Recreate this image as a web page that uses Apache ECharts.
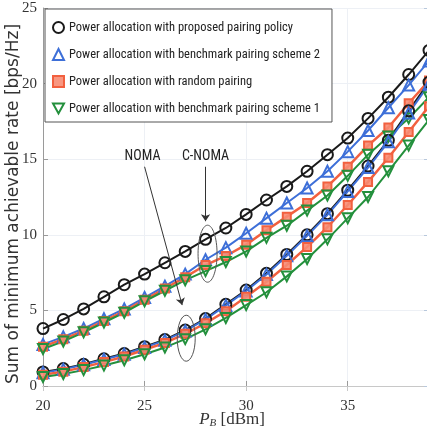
<!DOCTYPE html>
<html>
<head>
<meta charset="utf-8">
<script src="https://cdn.jsdelivr.net/npm/echarts@6/dist/echarts.min.js"></script>
<style>
  html, body { margin: 0; padding: 0; background: #fff; }
  #chart { width: 427px; height: 441px; }
</style>
</head>
<body>
<div id="chart"></div>
<script>
// transmit power P_B [dBm]
const powerDbm = [20, 21, 22, 23, 24, 25, 26, 27, 28, 29, 30, 31, 32, 33, 34, 35, 36, 37, 38, 39]

// C-NOMA group (upper curves)
const cnomaProposed = [3.8, 4.4, 5.1, 5.9, 6.7, 7.4, 8.15, 8.9, 9.7, 10.45, 11.35, 12.3, 13.2, 14.2, 15.3, 16.4, 17.7, 19.1, 20.6, 22.2]
const cnomaScheme2  = [2.75, 3.25, 3.8, 4.45, 5.1, 5.85, 6.6, 7.4, 8.35, 9.15, 10.1, 11.1, 12.1, 13.1, 14.2, 15.5, 16.9, 18.4, 19.9, 21.5]
const cnomaRandom   = [2.6, 3.1, 3.65, 4.3, 4.95, 5.7, 6.45, 7.2, 8.0, 8.6, 9.35, 10.3, 11.2, 12.1, 13.2, 14.5, 15.9, 17.1, 18.7, 20.2]
const cnomaScheme1  = [2.45, 2.95, 3.55, 4.2, 4.85, 5.6, 6.3, 7.0, 7.6, 8.2, 8.9, 9.8, 10.6, 11.6, 12.6, 13.9, 15.3, 16.5, 17.7, 19.1]

// NOMA group (lower curves)
const nomaProposed = [0.93, 1.15, 1.44, 1.8, 2.15, 2.6, 3.07, 3.7, 4.46, 5.4, 6.35, 7.45, 8.7, 10.0, 11.4, 12.95, 14.55, 16.25, 18.2, 20.1]
const nomaScheme2  = [0.88, 1.1, 1.4, 1.75, 2.1, 2.55, 3.02, 3.64, 4.4, 5.33, 6.28, 7.38, 8.62, 9.93, 11.32, 12.87, 14.45, 16.15, 18.05, 19.95]
const nomaRandom   = [0.75, 0.95, 1.25, 1.58, 1.95, 2.4, 2.85, 3.45, 4.15, 4.95, 5.9, 6.9, 8.0, 9.2, 10.5, 11.97, 13.5, 15.1, 16.8, 18.5]
const nomaScheme1  = [0.6, 0.8, 1.05, 1.35, 1.7, 2.1, 2.55, 3.1, 3.75, 4.5, 5.35, 6.2, 7.25, 8.4, 9.7, 11.1, 12.5, 14.2, 15.9, 17.6]

const legendNames = [
  'Power allocation with proposed pairing policy',
  'Power allocation with benchmark pairing scheme 2',
  'Power allocation with random pairing',
  'Power allocation with benchmark pairing scheme 1'
]

// annotations, in data coordinates
const cnomaLabel = { text: 'C-NOMA', at: [28.0, 15.15] }
const nomaLabel = { text: 'NOMA', at: [24.9, 15.15] }
const cnomaArrow = [[28.0, 14.5], [28.0, 10.9]]
const nomaArrow = [[25.0, 14.5], [26.85, 5.35]]
const cnomaEllipse = [28.1, 8.75]
const nomaEllipse = [27.05, 3.16]

// condensed face for legend and labels, sized so the longest entry fits the box
const narrow = 'Roboto Condensed'
const ctx = document.createElement('canvas').getContext('2d')
ctx.font = `14px '${narrow}', 'DejaVu Sans Condensed', sans-serif`
const w14 = ctx.measureText(legendNames[1]).width
const legendSize = Math.min(14, +(14 * 250 / w14).toFixed(1))

const DOWN_TRI = 'path://M0,0 L10,0 L5,9 Z'
const styles = [
  { color: '#1a1a1a', symbol: 'circle', size: 11, fill: 'rgba(255,255,255,0)', width: 2 },
  { color: '#3d6fd8', symbol: 'triangle', size: 11, fill: 'rgba(255,255,255,0)', width: 2 },
  { color: '#f2603f', symbol: 'rect', size: 8, fill: 'rgba(247,140,115,0.9)', width: 2.5 },
  { color: '#23903c', symbol: DOWN_TRI, size: 10, fill: 'rgba(255,255,255,0)', width: 2 }
]

const chart = echarts.init(document.getElementById('chart'))

const makeSeries = (name, values, st) => ({
  name,
  type: 'line',
  data: powerDbm.map((x, i) => [x, values[i]]),
  symbol: st.symbol,
  symbolSize: st.size,
  showAllSymbol: true,
  clip: false,
  lineStyle: { color: st.color, width: st.width },
  itemStyle: { color: st.fill, borderColor: st.color, borderWidth: 2 }
})

const groups = [
  [cnomaProposed, cnomaScheme2, cnomaRandom, cnomaScheme1],
  [nomaProposed, nomaScheme2, nomaRandom, nomaScheme1]
]
const series = []
groups.forEach(g => {
  g.forEach((vals, k) => series.push(makeSeries(legendNames[k], vals, styles[k])))
})

series[0].markLine = {
  silent: true,
  symbol: ['none', 'arrow'],
  symbolSize: 7,
  label: { show: false },
  lineStyle: { color: '#333', width: 1, type: 'solid' },
  data: [
    [{ coord: cnomaArrow[0] }, { coord: cnomaArrow[1] }],
    [{ coord: nomaArrow[0] }, { coord: nomaArrow[1] }]
  ]
}

const axisGray = '#9a9a9a'
const tickFont = { fontFamily: "'Liberation Serif', serif", fontSize: 15, color: '#333' }
const condensed = `'${narrow}', 'DejaVu Sans Condensed', sans-serif`

const option = {
  animation: false,
  backgroundColor: '#fff',
  grid: { left: 43, top: 8, width: 386, height: 378, outerBoundsMode: 'none', containLabel: false },
  legend: {
    orient: 'vertical',
    left: 45,
    top: 9,
    padding: [11, 12, 6, 7],
    itemGap: 12,
    itemWidth: 11,
    itemHeight: 11,
    backgroundColor: '#fff',
    borderColor: '#555',
    borderWidth: 1,
    textStyle: { fontFamily: condensed, fontSize: legendSize, color: '#222', lineHeight: 15 },
    data: legendNames.map((n, k) => ({
      name: n,
      icon: styles[k].symbol,
      itemStyle: { color: styles[k].fill, borderColor: styles[k].color, borderWidth: 2 }
    }))
  },
  xAxis: [
    {
      type: 'value', min: 20, max: 39, interval: 5,
      name: '{i|P}{s|B} [dBm]',
      nameLocation: 'middle',
      nameGap: 24,
      nameMoveOverlap: false,
      nameTextStyle: {
        fontFamily: "'Liberation Serif', serif", fontSize: 17, color: '#333', padding: [0, 8, 0, 0],
        rich: {
          i: { fontFamily: "'Liberation Serif', serif", fontStyle: 'italic', fontSize: 17, color: '#333' },
          s: { fontFamily: "'Liberation Serif', serif", fontStyle: 'italic', fontSize: 11, color: '#333', verticalAlign: 'bottom', padding: [8, 0, 0, 0] }
        }
      },
      axisLine: { lineStyle: { color: axisGray } },
      axisTick: { inside: true, length: 5, lineStyle: { color: axisGray } },
      axisLabel: { ...tickFont, margin: 13, showMaxLabel: false },
      splitLine: { show: true, lineStyle: { color: '#edf0f5' } }
    },
    {
      type: 'value', min: 20, max: 39, interval: 5, position: 'top',
      axisLine: { lineStyle: { color: '#c8c8c8' } },
      axisTick: { inside: true, length: 5, lineStyle: { color: '#c8c8c8' } },
      axisLabel: { show: false },
      splitLine: { show: false }
    }
  ],
  yAxis: [
    {
      type: 'value', min: 0, max: 25, interval: 5,
      name: 'Sum of minimum achievable rate [bps/Hz]',
      nameLocation: 'middle',
      nameGap: 21,
      nameMoveOverlap: false,
      nameTextStyle: { fontFamily: "'DejaVu Sans', sans-serif", fontSize: 17, color: '#333', padding: [0, 14, 0, 0] },
      axisLine: { show: true, lineStyle: { color: axisGray } },
      axisTick: { show: true, inside: true, length: 5, lineStyle: { color: axisGray } },
      axisLabel: { ...tickFont, margin: 6 },
      splitLine: { show: true, lineStyle: { color: '#edf0f5' } }
    },
    {
      type: 'value', min: 0, max: 25, interval: 5, position: 'right',
      axisLine: { show: true, lineStyle: { color: '#c8d4e4' } },
      axisTick: { show: true, inside: true, length: 5, lineStyle: { color: '#b8c8dc' } },
      axisLabel: { show: false },
      splitLine: { show: false }
    }
  ],
  series
}

chart.setOption(option)

// ellipses and labels placed through the chart's own coordinate conversion
const px = p => chart.convertToPixel({ xAxisIndex: 0, yAxisIndex: 0 }, p)
const labelStyle = { fontFamily: condensed, fontSize: Math.min(15, legendSize + 1.5), fill: '#222', align: 'center', verticalAlign: 'middle' }
const ce = px(cnomaEllipse)
const ne = px(nomaEllipse)
const cl = px(cnomaLabel.at)
const nl = px(nomaLabel.at)
chart.setOption({
  graphic: [
    { type: 'ellipse', shape: { cx: ce[0], cy: ce[1], rx: 9.5, ry: 28.5 }, style: { fill: 'none', stroke: '#555', lineWidth: 1 }, z: 100 },
    { type: 'ellipse', shape: { cx: ne[0], cy: ne[1], rx: 9, ry: 23 }, style: { fill: 'none', stroke: '#555', lineWidth: 1 }, z: 100 },
    { type: 'text', x: cl[0], y: cl[1], style: { ...labelStyle, text: cnomaLabel.text }, z: 100 },
    { type: 'text', x: nl[0], y: nl[1], style: { ...labelStyle, text: nomaLabel.text }, z: 100 }
  ]
})
</script>
</body>
</html>
